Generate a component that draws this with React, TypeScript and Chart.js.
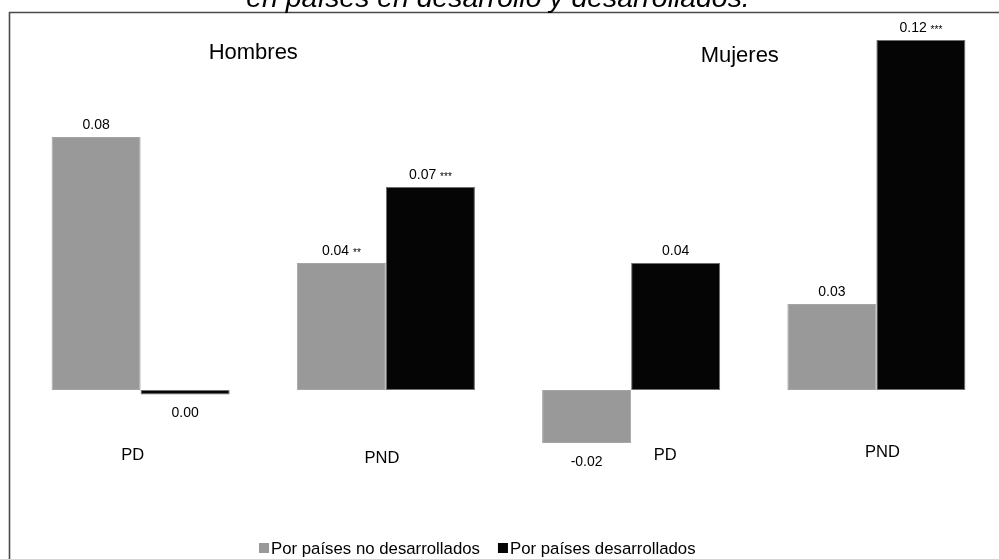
import { useEffect, useRef } from 'react';
import { Chart, registerables } from 'chart.js';

Chart.register(...registerables);

const categories = ['PD', 'PND', 'PD', 'PND'];
const groupTitles = ['Hombres', 'Mujeres'];
const seriesNames = ['Por países no desarrollados', 'Por países desarrollados'];
const noDesarrollados = [0.0843, 0.0423, -0.0177, 0.0287];
const desarrollados = [-0.0015, 0.0677, 0.0423, 0.1167];
const noDesLabels = ['0.08', '0.04', '-0.02', '0.03'];
const noDesStars = ['', '**', '', ''];
const desLabels = ['0.00', '0.07', '0.04', '0.12'];
const desStars = ['', '***', '', '***'];
const titleText = 'en países en desarrollo y desarrollados.';

const FONT = '"Liberation Sans", Arial, Helvetica, sans-serif';
const GRAY = '#999999';
const BLACK = '#050505';

// styling offsets (not data)
const catLabelDx = [-8, -4, 34, 6];
const catLabelDy = [455, 458, 455, 452];
const groupTitleDx = [-10, -14];
const groupTitleBaseline = [59, 62];

const decorPlugin = {
  id: 'decor',
  beforeDraw(chart: any) {
    const ctx = chart.ctx as CanvasRenderingContext2D;
    ctx.save();
    ctx.fillStyle = '#ffffff';
    ctx.fillRect(0, 0, chart.width, chart.height);
    ctx.strokeStyle = '#4a4a4a';
    ctx.lineWidth = 1.6;
    ctx.beginPath();
    ctx.moveTo(9.5, chart.height + 2);
    ctx.lineTo(9.5, 12.5);
    ctx.lineTo(chart.width + 2, 12.5);
    ctx.stroke();
    ctx.fillStyle = '#000';
    ctx.font = `italic 28.4px ${FONT}`;
    ctx.textAlign = 'center';
    ctx.textBaseline = 'alphabetic';
    ctx.fillText(titleText, 498, 7);
    ctx.restore();
  },
  afterDatasetsDraw(chart: any) {
    const ctx = chart.ctx as CanvasRenderingContext2D;
    const xs = chart.scales.x;
    ctx.save();
    ctx.fillStyle = '#000';
    ctx.textBaseline = 'alphabetic';

    const drawValue = (cx: number, cy: number, num: string, stars: string) => {
      ctx.font = `14px ${FONT}`;
      const wNum = ctx.measureText(num).width;
      const wSpace = ctx.measureText(' ').width;
      ctx.font = `10px ${FONT}`;
      const wStars = stars ? ctx.measureText(stars).width : 0;
      const total = wNum + (stars ? wSpace + wStars : 0);
      const x0 = cx - total / 2;
      ctx.textAlign = 'left';
      ctx.font = `14px ${FONT}`;
      ctx.fillText(num, x0, cy + 5);
      if (stars) {
        ctx.font = `10px ${FONT}`;
        ctx.fillText(stars, x0 + wNum + wSpace, cy + 6);
      }
    };

    const sets: [string[], string[]][] = [
      [noDesLabels, noDesStars],
      [desLabels, desStars],
    ];
    sets.forEach(([labs, stars], di) => {
      const meta = chart.getDatasetMeta(di);
      meta.data.forEach((bar: any, i: number) => {
        const v = chart.data.datasets[di].data[i] as number;
        const cy = v >= 0 ? bar.y - 13 : bar.y + 18;
        drawValue(bar.x, cy, labs[i], stars[i]);
      });
    });

    // category labels
    ctx.font = `16.5px ${FONT}`;
    ctx.textAlign = 'center';
    ctx.textBaseline = 'middle';
    categories.forEach((c, i) => {
      ctx.fillText(c, xs.getPixelForValue(i) + catLabelDx[i], catLabelDy[i]);
    });

    // group titles
    ctx.font = `22px ${FONT}`;
    ctx.textBaseline = 'alphabetic';
    groupTitles.forEach((t, g) => {
      const cx = (xs.getPixelForValue(g * 2) + xs.getPixelForValue(g * 2 + 1)) / 2;
      ctx.fillText(t, cx + groupTitleDx[g], groupTitleBaseline[g]);
    });

    // legend
    ctx.font = `16.8px ${FONT}`;
    ctx.textAlign = 'left';
    ctx.textBaseline = 'middle';
    const colors = [GRAY, BLACK];
    let lx = 259;
    const ly = 549;
    seriesNames.forEach((name, i) => {
      ctx.fillStyle = colors[i];
      ctx.fillRect(lx, ly - 6, 10, 10);
      ctx.fillStyle = '#000';
      ctx.fillText(name, lx + 12, ly);
      lx += 12 + ctx.measureText(name).width + 18;
    });
    ctx.restore();
  },
};

export default function App() {
  const ref = useRef<HTMLCanvasElement | null>(null);
  useEffect(() => {
    document.body.style.margin = '0';
    const canvas = ref.current;
    if (!canvas) return;
    const chart = new Chart(canvas, {
      type: 'bar',
      data: {
        labels: categories,
        datasets: [
          {
            label: seriesNames[0],
            data: noDesarrollados,
            backgroundColor: GRAY,
            borderColor: '#a6a6a6',
            borderWidth: 1,
            borderSkipped: false,
          },
          {
            label: seriesNames[1],
            data: desarrollados,
            backgroundColor: BLACK,
            borderColor: '#6e6e6e',
            borderWidth: 1,
            borderSkipped: false,
          },
        ],
      },
      options: {
        animation: false,
        responsive: false,
        maintainAspectRatio: false,
        devicePixelRatio: 1,
        layout: { padding: { left: 18, right: 0, top: 15, bottom: 89 } },
        plugins: {
          legend: { display: false },
          tooltip: { enabled: false },
          title: { display: false },
        },
        scales: {
          x: {
            display: false,
            offset: true,
            grid: { display: false },
          },
          y: {
            display: false,
            min: -0.026667,
            max: 0.125,
            grid: { display: false },
          },
        },
        datasets: {
          bar: { categoryPercentage: 0.726, barPercentage: 1.0 },
        },
      },
      plugins: [decorPlugin],
    });
    return () => chart.destroy();
  }, []);
  return (
    <div style={{ width: 999, height: 559, overflow: 'hidden' }}>
      <canvas ref={ref} width={999} height={559} style={{ display: 'block' }} />
    </div>
  );
}
